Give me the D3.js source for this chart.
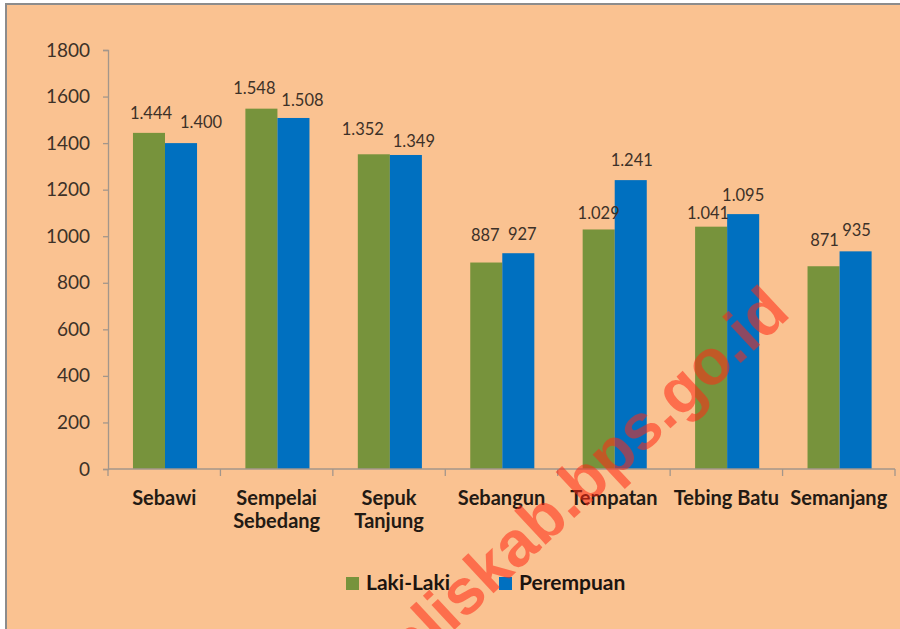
<html>
<head>
<script src="https://d3js.org/d3.v7.min.js"></script>
<style>
  body { margin: 0; background: #ffffff; }
  svg { display: block; }
</style>
</head>
<body>
<svg></svg>
<script>
// data
const categories = ["Sebawi", "Sempelai Sebedang", "Sepuk Tanjung", "Sebangun", "Tempatan", "Tebing Batu", "Semanjang"];
const categoryLines = [["Sebawi"], ["Sempelai", "Sebedang"], ["Sepuk", "Tanjung"], ["Sebangun"], ["Tempatan"], ["Tebing Batu"], ["Semanjang"]];
const seriesNames = ["Laki-Laki", "Perempuan"];
const lakiLaki = [1444, 1548, 1352, 887, 1029, 1041, 871];
const perempuan = [1400, 1508, 1349, 927, 1241, 1095, 935];
const yTicks = [0, 200, 400, 600, 800, 1000, 1200, 1400, 1600, 1800];
const colors = ["#77933c", "#0070c0"];

// hand-placed label offsets (as in the original), [dx, dy from bar top]
const labelNudge = [
  [[2, -14], [20, -15]],
  [[-7, -15], [9, -12]],
  [[-11, -19], [8, -8]],
  [[-1, -22], [4, -13]],
  [[0, -10], [1, -14]],
  [[-3, -8], [0, -13]],
  [[1, -20], [1, -15]]
];

const W = 900, H = 629;
const svg = d3.select("svg").attr("width", W).attr("height", H);

// background + frame
svg.append("rect").attr("x", 6).attr("y", 4).attr("width", W).attr("height", H)
  .attr("fill", "#fac291").attr("stroke", "#8c8c8c").attr("stroke-width", 2);

const x0 = d3.scaleBand().domain(categories).range([108, 895]).padding(0);
const x1 = d3.scaleBand().domain(seriesNames)
  .range([x0.bandwidth() * 0.222, x0.bandwidth() * 0.792]).padding(0);
const y = d3.scaleLinear().domain([0, 1800]).range([469, 50]);

const axisColor = "#a3968b";

// y axis
const yAxis = svg.append("g").attr("transform", "translate(108,0)")
  .call(d3.axisLeft(y).tickValues(yTicks).tickSize(5).tickPadding(13).tickFormat(d3.format("d")));
yAxis.select(".domain").attr("stroke", axisColor).attr("stroke-width", 1.3);
yAxis.selectAll(".tick line").attr("stroke", axisColor).attr("stroke-width", 1.3);
yAxis.selectAll(".tick text").attr("fill", "#3d3128")
  .style("font-family", "Lato").style("font-size", "19px");

// bars
const rows = categories.map((c, i) => ({ cat: c, i: i, vals: [lakiLaki[i], perempuan[i]] }));
const groups = svg.append("g").selectAll("g").data(rows).join("g")
  .attr("transform", d => "translate(" + x0(d.cat) + ",0)");

groups.selectAll("rect").data(d => d.vals.map((v, j) => ({ s: seriesNames[j], v: v, j: j })))
  .join("rect")
  .attr("x", d => x1(d.s))
  .attr("width", x1.bandwidth())
  .attr("y", d => y(d.v))
  .attr("height", d => y(0) - y(d.v))
  .attr("fill", d => colors[d.j]);

const fmt = v => d3.format(",")(v).replace(/,/g, ".");
groups.selectAll("text.val").data(d => d.vals.map((v, j) => ({ s: seriesNames[j], v: v, n: labelNudge[d.i][j] })))
  .join("text").attr("class", "val")
  .attr("x", d => x1(d.s) + x1.bandwidth() / 2 + d.n[0])
  .attr("y", d => y(d.v) + d.n[1])
  .attr("text-anchor", "middle")
  .attr("fill", "#3d3128")
  .style("font-family", "Lato").style("font-size", "16.5px")
  .text(d => fmt(d.v));

// x axis
svg.append("line").attr("x1", 108).attr("x2", 895).attr("y1", y(0)).attr("y2", y(0))
  .attr("stroke", axisColor).attr("stroke-width", 1.3);
const bounds = categories.map(c => x0(c)).concat([x0.range()[1]]);
svg.append("g").selectAll("line").data(bounds).join("line")
  .attr("x1", d => d).attr("x2", d => d)
  .attr("y1", y(0)).attr("y2", y(0) + 7)
  .attr("stroke", axisColor).attr("stroke-width", 1.3);

const catLabels = svg.append("g").selectAll("text").data(categories).join("text")
  .attr("x", d => x0(d) + x0.bandwidth() / 2)
  .attr("y", 505)
  .attr("text-anchor", "middle")
  .attr("fill", "#231a14")
  .style("font-family", "Lato").style("font-size", "20px").style("font-weight", "bold");
catLabels.each(function(d, i) {
  const t = d3.select(this);
  categoryLines[i].forEach((ln, k) => {
    t.append("tspan").attr("x", x0(d) + x0.bandwidth() / 2).attr("dy", k === 0 ? 0 : 23).text(ln);
  });
});

// legend
const legendX = [346, 499];
const legend = svg.append("g").selectAll("g").data(seriesNames).join("g")
  .attr("transform", (d, i) => "translate(" + legendX[i] + ",577)");
legend.append("rect").attr("width", 13).attr("height", 13).attr("fill", (d, i) => colors[i]);
legend.append("text").attr("x", 20).attr("y", 13)
  .attr("fill", "#1c1410")
  .style("font-family", "Lato").style("font-size", "21px").style("font-weight", "bold")
  .text(d => d);

// watermark
svg.append("text")
  .attr("transform", "translate(792,315) rotate(-43)")
  .attr("text-anchor", "end")
  .attr("fill", "#ff2a14").attr("fill-opacity", 0.55)
  .style("font-family", "Liberation Sans").style("font-size", "64px").style("font-weight", "bold")
  .text("bengkaliskab.bps.go.id");
</script>
</body>
</html>
